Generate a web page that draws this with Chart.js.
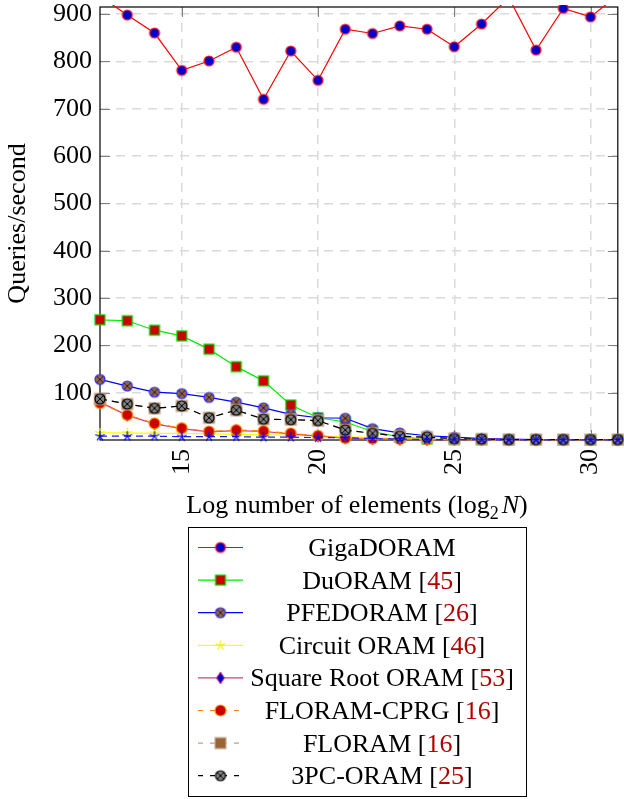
<!DOCTYPE html>
<html>
<head>
<meta charset="utf-8">
<script src="https://cdn.jsdelivr.net/npm/chart.js@4/dist/chart.umd.min.js"></script>
<style>
  html, body { margin: 0; padding: 0; background: #fff; }
  #wrap { width: 624px; height: 799px; position: relative; }
</style>
</head>
<body>
<div id="wrap"><canvas id="chart" width="624" height="799"></canvas></div>
<script>
// x values: log2 N
const logN = [12, 13, 14, 15, 16, 17, 18, 19, 20, 21, 22, 23, 24, 25, 26, 27, 28, 29, 30, 31];
const xTickValues = [15, 20, 25, 30];
const yTickValues = [100, 200, 300, 400, 500, 600, 700, 800, 900];

// queries/second
const gigaDORAM   = [938, 898, 860, 781, 801, 830, 720, 822, 760, 868, 859, 875, 868, 831, 879, 935, 824, 912, 894, 940];
const duORAM      = [254, 252, 232, 220, 192, 155, 125, 74, 47, 38, 18, 6, 2, 1, 0.6, 0.4, 0.3, 0.2, 0.2, 0.1];
const pfedORAM    = [128, 114, 101, 98, 90, 80, 68, 54, 47, 46, 24, 15, 9, 6, 3, 2, 1, 1, 1, 1];
const circuitORAM = [15, 15, 14, 14, 13, 12, 11, 10, 9, 7, 5, 3, 2, 1, 1, 0.5, 0.3, 0.2, 0.1, 0.1];
const sqrtORAM    = [80, 52, 34, 24, 17, 20, 18, 13, 8, 4, 2, 1, 0.6, 0.3, 0.2, 0.1, 0.1, 0.1, 0.1, 0.1];
const floramCPRG  = [78, 53, 35, 25, 18, 21, 19, 14, 9, 4, 3, 2, 1, 1, 0.5, 0.3, 0.2, 0.2, 0.1, 0.1];
const floram      = [87, 76, 67, 72, 47, 63, 44, 43, 41, 21, 14, 8, 6, 3, 2, 1, 1, 1, 1, 1];
const pc3ORAM     = [87, 76, 67, 72, 47, 63, 44, 43, 41, 21, 14, 8, 6, 3, 2, 1, 1, 1, 1, 1];
const extraSeries = [8, 8, 8, 7, 7, 7, 6, 6, 5, 5, 3, 2, 1, 1, 0.5, 0.3, 0.2, 0.1, 0.1, 0.1];

const legendNames = ['GigaDORAM', 'DuORAM', 'PFEDORAM', 'Circuit ORAM', 'Square Root ORAM', 'FLORAM-CPRG', 'FLORAM', '3PC-ORAM'];
const legendRefs  = ['', '45', '26', '46', '53', '16', '16', '25'];

const FONT = 'Liberation Serif';

// ---- marker images ----
function newMarkerCanvas(size) {
    const c = document.createElement('canvas');
    c.width = size; c.height = size;
    return c;
}

function circleMarker(r, fill, stroke, crossColor) {
    const c = newMarkerCanvas(Math.ceil(2 * r + 4));
    const g = c.getContext('2d');
    const m = c.width / 2;
    g.beginPath(); g.arc(m, m, r, 0, Math.PI * 2);
    g.fillStyle = fill; g.fill();
    if (crossColor) {
        const d = r * Math.SQRT1_2;
        g.beginPath();
        g.moveTo(m - d, m - d); g.lineTo(m + d, m + d);
        g.moveTo(m - d, m + d); g.lineTo(m + d, m - d);
        g.strokeStyle = crossColor; g.lineWidth = 1; g.stroke();
    }
    g.beginPath(); g.arc(m, m, r, 0, Math.PI * 2);
    g.strokeStyle = stroke; g.lineWidth = 1.2; g.stroke();
    return c;
}

function squareMarker(side, fill, stroke) {
    const c = newMarkerCanvas(Math.ceil(side + 4));
    const g = c.getContext('2d');
    const m = c.width / 2;
    g.fillStyle = fill;
    g.fillRect(m - side / 2, m - side / 2, side, side);
    g.strokeStyle = stroke; g.lineWidth = 1.2;
    g.strokeRect(m - side / 2, m - side / 2, side, side);
    return c;
}

function diamondMarker(w, h, fill, stroke) {
    const c = newMarkerCanvas(Math.ceil(2 * h + 4));
    const g = c.getContext('2d');
    const m = c.width / 2;
    g.beginPath();
    g.moveTo(m, m - h); g.lineTo(m + w, m); g.lineTo(m, m + h); g.lineTo(m - w, m);
    g.closePath();
    g.fillStyle = fill; g.fill();
    g.strokeStyle = stroke; g.lineWidth = 1; g.stroke();
    return c;
}

function starMarker(r, color) {
    const c = newMarkerCanvas(Math.ceil(2 * r + 4));
    const g = c.getContext('2d');
    const m = c.width / 2;
    g.beginPath();
    for (let k = 0; k < 5; k++) {
        const a = -Math.PI / 2 + k * 2 * Math.PI / 5;
        g.moveTo(m, m);
        g.lineTo(m + r * Math.cos(a), m + r * Math.sin(a));
    }
    g.strokeStyle = color; g.lineWidth = 1.2; g.stroke();
    return c;
}

const DASH = [7, 5];

const series = [
    { label: legendNames[0], values: gigaDORAM,   line: '#ff0000', dash: false, marker: circleMarker(5, '#0000cc', '#ff2020') },
    { label: legendNames[1], values: duORAM,      line: '#00ee00', dash: false, marker: squareMarker(10, '#cc0000', '#00e000') },
    { label: legendNames[2], values: pfedORAM,    line: '#0000ff', dash: false, marker: circleMarker(5, '#996633', '#2a2aff', '#1a1a66') },
    { label: legendNames[3], values: circuitORAM, line: '#ffff00', dash: false, marker: starMarker(5, '#eeee00') },
    { label: legendNames[4], values: sqrtORAM,    line: '#d93a7a', dash: false, marker: diamondMarker(4, 6, '#0000cc', '#d93a7a') },
    { label: legendNames[5], values: floramCPRG,  line: '#ff8000', dash: true,  marker: circleMarker(5.5, '#cc0000', '#ff9900') },
    { label: legendNames[6], values: floram,      line: '#b8a090', dash: true,  marker: squareMarker(11, '#996633', '#c4ac9c') },
    { label: legendNames[7], values: pc3ORAM,     line: '#000000', dash: true,  marker: circleMarker(5, '#808080', '#000000', '#000000') },
    { label: '', values: extraSeries,             line: '#2020ff', dash: true,  marker: starMarker(5, '#0000ff') }
];

const datasets = series.map((s, i) => ({
    label: s.label,
    data: logN.map((x, j) => ({ x: x, y: s.values[j] })),
    borderColor: s.line,
    backgroundColor: s.line,
    borderWidth: 1.2,
    borderDash: s.dash ? DASH : [],
    pointStyle: s.marker,
    pointRadius: 5,
    pointHoverRadius: 5,
    tension: 0,
    order: 100 - i,
    clip: { left: 12, right: 12, bottom: 12, top: 2 }
}));

// frame, inside tick marks, x title and boxed legend
const decorations = {
    id: 'decorations',
    beforeDatasetsDraw(chart) {
        const { ctx, chartArea: a, scales } = chart;
        ctx.save();
        ctx.strokeStyle = '#808080';
        ctx.lineWidth = 1;
        ctx.beginPath();
        yTickValues.forEach(v => {
            const py = Math.round(scales.y.getPixelForValue(v)) + 0.5;
            ctx.moveTo(a.left, py); ctx.lineTo(a.left + 10, py);
            ctx.moveTo(a.right - 10, py); ctx.lineTo(a.right, py);
        });
        xTickValues.forEach(v => {
            const px = Math.round(scales.x.getPixelForValue(v)) + 0.5;
            ctx.moveTo(px, a.bottom); ctx.lineTo(px, a.bottom - 10);
            ctx.moveTo(px, a.top); ctx.lineTo(px, a.top + 10);
        });
        ctx.stroke();
        ctx.strokeStyle = '#000';
        ctx.lineWidth = 1.2;
        ctx.strokeRect(a.left, a.top, a.right - a.left, a.bottom - a.top);
        ctx.restore();
    },
    afterDraw(chart) {
        const { ctx } = chart;
        ctx.save();
        ctx.fillStyle = '#000';
        ctx.textBaseline = 'alphabetic';
        ctx.textAlign = 'left';

        // x axis title with subscript
        const mainFont = '26px "' + FONT + '"';
        const subFont = '18px "' + FONT + '"';
        const italFont = 'italic 26px "' + FONT + '"';
        const p1 = 'Log number of elements (log', p2 = '2', p3 = 'N', p4 = ')';
        ctx.font = mainFont; const w1 = ctx.measureText(p1).width; const w4 = ctx.measureText(p4).width;
        ctx.font = subFont; const w2 = ctx.measureText(p2).width;
        ctx.font = italFont; const w3 = ctx.measureText(p3).width;
        const gap = 3;
        const total = w1 + w2 + gap + w3 + w4;
        let tx = 357 - total / 2;
        const ty = 513;
        ctx.font = mainFont; ctx.fillText(p1, tx, ty); tx += w1;
        ctx.font = subFont; ctx.fillText(p2, tx, ty + 6); tx += w2 + gap;
        ctx.font = italFont; ctx.fillText(p3, tx, ty); tx += w3;
        ctx.font = mainFont; ctx.fillText(p4, tx, ty);

        // legend box
        const box = { x: 188.5, y: 527.5, w: 338, h: 269 };
        ctx.strokeStyle = '#000';
        ctx.lineWidth = 1;
        ctx.strokeRect(box.x, box.y, box.w, box.h);

        const rowY0 = 547.5, rowStep = 32.6;
        legendNames.forEach((name, i) => {
            const s = series[i];
            const cy = rowY0 + i * rowStep;
            // sample line
            ctx.save();
            ctx.strokeStyle = s.line;
            ctx.lineWidth = 1.2;
            ctx.setLineDash(s.dash ? [5, 7] : []);
            ctx.beginPath();
            ctx.moveTo(198, cy); ctx.lineTo(243, cy);
            ctx.stroke();
            ctx.restore();
            ctx.drawImage(s.marker, 220.5 - s.marker.width / 2, cy - s.marker.height / 2);

            // label, reference number in dark red
            ctx.font = mainFont;
            const parts = legendRefs[i]
                ? [[name + ' [', '#000'], [legendRefs[i], '#b00000'], [']', '#000']]
                : [[name, '#000']];
            const widths = parts.map(p => ctx.measureText(p[0]).width);
            let lx = 382 - widths.reduce((a, b) => a + b, 0) / 2;
            parts.forEach((p, k) => {
                ctx.fillStyle = p[1];
                ctx.fillText(p[0], lx, cy + 8.5);
                lx += widths[k];
            });
        });
        ctx.restore();
    }
};

const tickFont = { family: FONT, size: 26 };

new Chart(document.getElementById('chart'), {
    type: 'line',
    data: { datasets: datasets },
    options: {
        responsive: false,
        animation: false,
        devicePixelRatio: 1,
        layout: { padding: { top: 7, right: 4, bottom: 269, left: 0 } },
        plugins: {
            legend: { display: false },
            tooltip: { enabled: false }
        },
        scales: {
            x: {
                type: 'linear',
                min: 12,
                max: 31,
                afterBuildTicks: s => { s.ticks = xTickValues.map(v => ({ value: v })); },
                afterFit: s => { s.height = 90; s.paddingLeft = 0; s.paddingRight = 0; },
                ticks: { font: tickFont, color: '#000', minRotation: 90, maxRotation: 90, padding: 9 },
                grid: { color: '#dadada', lineWidth: 1.5, drawTicks: false },
                border: { display: false, dash: [9, 7] }
            },
            y: {
                type: 'linear',
                min: 0,
                max: 915,
                afterBuildTicks: s => { s.ticks = yTickValues.map(v => ({ value: v })); },
                afterFit: s => { s.width = 100; s.paddingTop = 0; s.paddingBottom = 0; },
                ticks: { font: tickFont, color: '#000', padding: 8 },
                grid: { color: '#dadada', lineWidth: 1.5, drawTicks: false },
                border: { display: false, dash: [9, 7] },
                title: {
                    display: true,
                    text: 'Queries/second',
                    font: tickFont,
                    color: '#000',
                    padding: { top: 3, bottom: 0 }
                }
            }
        }
    },
    plugins: [decorations]
});
</script>
</body>
</html>
